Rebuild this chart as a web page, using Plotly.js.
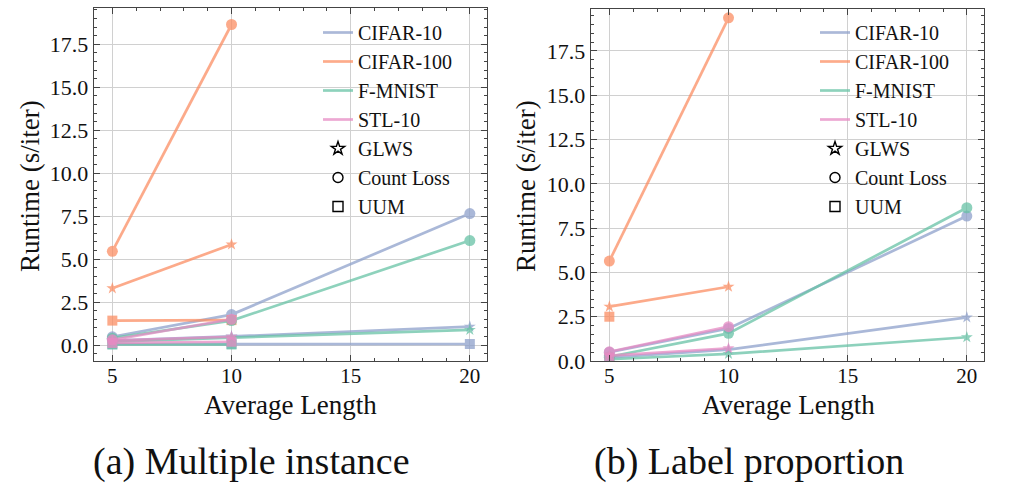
<!DOCTYPE html>
<html>
<head>
<meta charset="utf-8">
<script src="https://cdn.plot.ly/plotly-3.0.1.min.js"></script>
<style>html,body{margin:0;padding:0;background:#fff;}#chart{width:1010px;height:485px;}</style>
</head>
<body>
<div id="chart"></div>
<script>
// ---- data ----
const avgLength = [5, 10, 20];
const datasets = ["CIFAR-10", "CIFAR-100", "F-MNIST", "STL-10"];
const methods = ["GLWS", "Count Loss", "UUM"];

// (a) Multiple instance: runtime (s/iter), per dataset, per method, at avgLength
const mil_cifar10_glws = [0.25, 0.50, 1.07];
const mil_cifar10_count = [0.48, 1.77, 7.65];
const mil_cifar10_uum = [0.05, 0.06, 0.06];
const mil_cifar100_glws = [3.30, 5.85, null];
const mil_cifar100_count = [5.45, 18.65, null];
const mil_cifar100_uum = [1.42, 1.45, null];
const mil_fmnist_glws = [0.20, 0.42, 0.88];
const mil_fmnist_count = [0.40, 1.42, 6.08];
const mil_fmnist_uum = [0.03, 0.03, null];
const mil_stl10_glws = [0.25, 0.48, null];
const mil_stl10_count = [0.30, 1.50, null];
const mil_stl10_uum = [0.12, 0.19, null];

// (b) Label proportion
const llp_cifar10_glws = [0.20, 0.64, 2.46];
const llp_cifar10_count = [0.50, 1.84, 8.18];
const llp_cifar10_uum = [0.15, null, null];
const llp_cifar100_glws = [3.07, 4.19, null];
const llp_cifar100_count = [5.64, 19.37, null];
const llp_cifar100_uum = [2.50, null, null];
const llp_fmnist_glws = [0.10, 0.40, 1.34];
const llp_fmnist_count = [0.24, 1.56, 8.65];
const llp_fmnist_uum = [0.05, null, null];
const llp_stl10_glws = [0.30, 0.72, null];
const llp_stl10_count = [0.52, 1.94, null];
const llp_stl10_uum = [0.20, null, null];

const milData = [
  [mil_cifar10_glws, mil_cifar10_count, mil_cifar10_uum],
  [mil_cifar100_glws, mil_cifar100_count, mil_cifar100_uum],
  [mil_fmnist_glws, mil_fmnist_count, mil_fmnist_uum],
  [mil_stl10_glws, mil_stl10_count, mil_stl10_uum]
];
const llpData = [
  [llp_cifar10_glws, llp_cifar10_count, llp_cifar10_uum],
  [llp_cifar100_glws, llp_cifar100_count, llp_cifar100_uum],
  [llp_fmnist_glws, llp_fmnist_count, llp_fmnist_uum],
  [llp_stl10_glws, llp_stl10_count, llp_stl10_uum]
];

// ---- styles ----
const colors = ["#8da0cb", "#fc8d62", "#66c2a5", "#e78ac3"];
const symbols = ["star", "circle", "square"];
const legendSymbols = ["star-open", "circle-open", "square-open"];
const markerSizes = [9, 11, 10];
const OPA = 0.74;
const FONT = "Liberation Serif, Times New Roman, serif";

const traces = [];
function addPanel(data, xa, ya, legendName) {
  data.forEach((ds, di) => {
    ds.forEach((vals, mi) => {
      traces.push({
        type: "scatter", mode: "lines+markers",
        x: avgLength, y: vals, xaxis: xa, yaxis: ya,
        connectgaps: false, showlegend: false, opacity: OPA,
        line: {color: colors[di], width: 2.7},
        marker: {color: colors[di], symbol: symbols[mi], size: markerSizes[mi]},
        name: datasets[di] + " " + methods[mi]
      });
    });
  });
  datasets.forEach((d, di) => {
    traces.push({
      type: "scatter", mode: "lines", x: [null], y: [null], xaxis: xa, yaxis: ya,
      name: d, legend: legendName, opacity: OPA,
      line: {color: colors[di], width: 2.7}
    });
  });
  methods.forEach((m, mi) => {
    traces.push({
      type: "scatter", mode: "markers", x: [null], y: [null], xaxis: xa, yaxis: ya,
      name: m, legend: legendName,
      marker: {color: "#000", symbol: legendSymbols[mi], size: 10, line: {width: 1.4, color: "#000"}}
    });
  });
}
addPanel(milData, "x", "y", "legend");
addPanel(llpData, "x2", "y2", "legend2");

function xAxis(domain, anchor) {
  return {
    domain: domain, anchor: anchor, range: [4.23, 20.72],
    tickvals: [5, 10, 15, 20], ticks: "inside", ticklen: 6, tickwidth: 1, tickcolor: "#444",
    ticklabelstandoff: -5,
    mirror: "allticks", showline: true, linecolor: "#444", linewidth: 1.3,
    showgrid: true, gridcolor: "#d0d0d0", gridwidth: 1, zeroline: false,
    minor: {dtick: 1, tick0: 0, ticks: "inside", ticklen: 3, tickcolor: "#444", showgrid: false},
    tickfont: {family: FONT, size: 21, color: "#111"}
  };
}
function yAxis(domain, anchor, range) {
  return {
    domain: domain, anchor: anchor, range: range,
    tickvals: [0, 2.5, 5, 7.5, 10, 12.5, 15, 17.5],
    ticktext: ["0.0", "2.5", "5.0", "7.5", "10.0", "12.5", "15.0", "17.5"],
    ticks: "inside", ticklen: 6, tickwidth: 1, tickcolor: "#444",
    mirror: "allticks", showline: true, linecolor: "#444", linewidth: 1.3,
    showgrid: true, gridcolor: "#d0d0d0", gridwidth: 1, zeroline: false,
    minor: {dtick: 0.5, tick0: 0, ticks: "inside", ticklen: 3, tickcolor: "#444", showgrid: false},
    tickfont: {family: FONT, size: 22, color: "#111"}
  };
}

const W = 1010, H = 485;
function legendAt(px, py) {
  return {
    x: px / W, y: 1 - py / H, xanchor: "left", yanchor: "top",
    bgcolor: "rgba(0,0,0,0)", borderwidth: 0, tracegroupgap: 0,
    font: {family: FONT, size: 20, color: "#111"}
  };
}

const ann = (text, x, y, size, angle) => ({
  text: text, xref: "paper", yref: "paper", x: x / W, y: 1 - y / H,
  xanchor: "center", yanchor: "middle", showarrow: false, textangle: angle || 0,
  font: {family: FONT, size: size, color: "#111"}
});

const layout = {
  width: W, height: H, margin: {l: 0, r: 0, t: 0, b: 0},
  paper_bgcolor: "#fff", plot_bgcolor: "#fff", hovermode: false,
  showlegend: true,
  xaxis: xAxis([94 / W, 487 / W], "y"),
  yaxis: yAxis([(H - 361) / H, (H - 8) / H], "x", [-0.93, 19.61]),
  xaxis2: xAxis([591 / W, 984 / W], "y2"),
  yaxis2: yAxis([(H - 361) / H, (H - 9) / H], "x2", [0, 19.87]),
  legend: legendAt(318, 13),
  legend2: legendAt(815, 13),
  annotations: [
    ann("Average Length", 290, 405, 27),
    ann("Average Length", 788, 405, 27),
    ann("Runtime (s/iter)", 30, 186, 27, -90),
    ann("Runtime (s/iter)", 526, 186, 27, -90),
    ann("(a) Multiple instance", 251, 461, 38),
    ann("(b) Label proportion", 749, 461, 38)
  ]
};

Plotly.newPlot("chart", traces, layout, {displayModeBar: false, staticPlot: true});
</script>
</body>
</html>
